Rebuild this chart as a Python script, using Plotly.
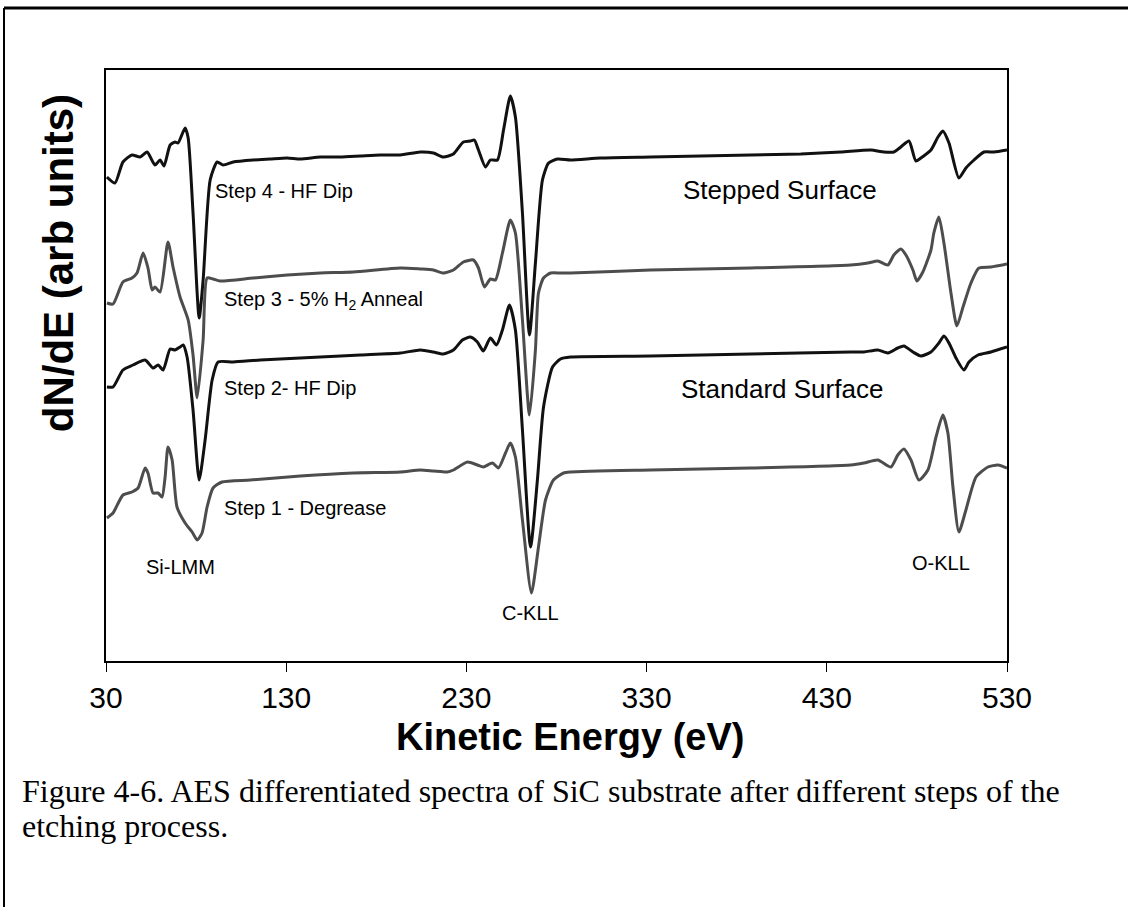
import plotly.graph_objects as go

# ---- data (energy in eV, intensity in arbitrary units) ----
e4 = [30.5, 35, 39.4, 44.4, 48.9, 52.8, 57.2, 60, 62.2, 65.6, 68.3, 70, 73.9, 75.6, 78.3, 81.7, 83.9, 87.8, 91.7, 95,
      100.6, 111.7, 121.1, 130.6, 137.8, 148.9, 160, 171.1, 182.2, 193.3, 204.4, 211.7, 217.2, 222.8, 228.3, 232.2,
      234.4, 236.7, 240.6, 243.3, 247.2, 250.6, 254.4, 257.2, 261.1, 265, 268.3, 272.2, 275.6, 280.6, 287.8, 304.4,
      332.2, 360, 387.8, 415.6, 437.8, 454.4, 461.7, 467.2, 471.1, 475.6, 479.4, 482.2, 487.8, 491.7, 494.4, 497.8,
      503.3, 507.2, 511.7, 517.2, 522.8, 530]
i4 = [484, 478, 499, 506, 504, 509, 496, 501, 495, 516, 519, 518, 533, 523, 448, 343, 381, 481, 499, 496,
      499, 501, 502, 503, 502, 504, 504, 505, 506, 506, 509, 508, 504, 507, 519, 520,
      521, 511, 494, 501, 501, 531, 565, 544, 448, 326, 398, 481, 498, 502, 501, 503,
      504, 505, 506, 507, 509, 511, 509, 509, 514, 520, 500, 503, 511, 524, 530, 518,
      483, 493, 501, 509, 509, 511]

e3 = [30.5, 33.9, 39.4, 44.4, 47.2, 50.6, 53.3, 55.6, 57.2, 60, 64.4, 67.2, 71.1, 75.6, 78.3, 80.6, 83.9, 86.1, 89.4,
      93.3, 111.7, 130.6, 148.9, 167.2, 193.3, 204.4, 211.7, 217.2, 222.8, 228.3, 233.9, 236.7, 240, 243.3, 246.1,
      250, 254.4, 257.2, 261.1, 265, 268.3, 270, 272.8, 276.7, 282.2, 287.8, 332.2, 387.8, 443.3, 452.8, 458.3,
      463.9, 467.2, 471.1, 473.9, 477.8, 480, 483.3, 487.8, 489.4, 492.2, 495, 498.9, 502.2, 505.6, 510, 514.4,
      521.1, 530]
i3 = [358, 357, 379, 383, 388, 408, 393, 371, 374, 369, 419, 394, 364, 341, 306, 263, 321, 383, 382,
      380, 383, 386, 388, 389, 393, 392, 391, 388, 391, 399, 401, 393, 374, 382, 381,
      408, 441, 428, 341, 246, 311, 368, 383, 388, 388, 388, 391, 393, 396, 398, 400,
      396, 406, 412, 406, 391, 380, 389, 411, 428, 444, 418, 368, 335, 354, 378, 393,
      394, 397]

e2 = [30.5, 33.9, 39.4, 45, 51.7, 56.1, 58.9, 61.7, 65.6, 68.3, 71.1, 72.8, 75, 78.3, 81.7, 85, 88.9, 92.2, 100.6,
      115.6, 137.8, 148.9, 171.1, 193.3, 204.4, 211.7, 217.2, 222.8, 227.8, 232.2, 236.1, 239.4, 243.3, 246.7, 250,
      253.9, 257.2, 261.1, 265.6, 269.4, 272.8, 277.8, 282.2, 287.8, 332.2, 387.8, 443.3, 450.6, 458.3, 463.9,
      469.4, 472.8, 477.8, 482.2, 487.8, 492.2, 495, 497.8, 501.7, 506.1, 508.9, 513.9, 521.1, 530]
i2 = [274, 274, 291, 296, 301, 293, 296, 291, 312, 311, 314, 316, 304, 251, 181, 221, 281, 299, 299,
      301, 303, 304, 306, 308, 311, 309, 307, 311, 321, 324, 319, 310, 323, 316, 331,
      356, 331, 231, 114, 181, 254, 294, 302, 304, 305, 307, 309, 309, 311, 308,
      313, 315, 309, 305, 309, 318, 325, 318, 303, 291, 299, 306, 309, 314]

e1 = [30.5, 33.9, 39.4, 44.4, 47.8, 51.7, 53.3, 56.1, 58.9, 61.1, 62.8, 64.4, 66.7, 69.4, 73.9, 77.8, 80.6, 83.3,
      86.1, 89.4, 94.4, 110, 137.8, 167.2, 193.3, 204.4, 211.7, 219.4, 222.8, 230.6, 236.1, 239.4, 244.4, 247.8,
      251.7, 254.4, 257.2, 261.1, 266.1, 270, 273.9, 278.3, 283.9, 287.8, 332.2, 387.8, 443.3, 450.6, 458.3, 465.6,
      469.4, 472.8, 476.7, 481.1, 486.1, 490.6, 494.4, 497.2, 500, 503.3, 507.2, 512.8, 519.4, 525, 530]
i1 = [143, 148, 166, 169, 173, 193, 188, 168, 168, 164, 184, 214, 201, 154, 138, 129, 121, 128,
      154, 173, 179, 181, 185, 188, 189, 191, 190, 189, 191, 199, 196, 194, 198, 193,
      208, 218, 204, 141, 68, 114, 161, 181, 188, 189, 191, 193, 196, 198, 201, 194,
      206, 212, 201, 181, 191, 224, 246, 228, 174, 129, 151, 184, 194, 196, 193]

x_ticks = [30, 130, 230, 330, 430, 530]

BLACK = "#111111"
GRAY = "#4d4d4d"
SANS = "Arial, Liberation Sans, sans-serif"

fig = go.Figure()
for xs, ys, col, nm in [(e1, i1, GRAY, "Step 1 - Degrease"),
                        (e2, i2, BLACK, "Step 2- HF Dip"),
                        (e3, i3, GRAY, "Step 3 - 5% H2 Anneal"),
                        (e4, i4, BLACK, "Step 4 - HF Dip")]:
    fig.add_trace(go.Scatter(x=xs, y=ys, mode="lines", name=nm,
                             line=dict(color=col, width=3, shape="spline", smoothing=0.6)))

lab_font = dict(family=SANS, size=20, color="black")
big_font = dict(family=SANS, size=26, color="black")
labels = [
    (89.4, 470, "Step 4 - HF Dip", "left", lab_font),
    (94.4, 361, "Step 3 - 5% H<sub>2</sub> Anneal", "left", lab_font),
    (94.4, 273, "Step 2- HF Dip", "left", lab_font),
    (94.4, 153, "Step 1 - Degrease", "left", lab_font),
    (71.1, 94, "Si-LMM", "center", lab_font),
    (265.6, 48, "C-KLL", "center", lab_font),
    (493.3, 98, "O-KLL", "center", lab_font),
    (348.9, 471, "Stepped Surface", "left", big_font),
    (347.8, 272, "Standard Surface", "left", big_font),
]
for x, y, t, xa, f in labels:
    fig.add_annotation(x=x, y=y, xref="x", yref="y", text=t, showarrow=False,
                       xanchor=xa, yanchor="middle", font=f)

# axis titles (positioned as in the reference)
fig.add_annotation(x=-0.0533, y=0.673, xref="paper", yref="paper", showarrow=False,
                   xanchor="center", yanchor="middle", textangle=-90,
                   text="<b>dN/dE (arb units)</b>", font=dict(family=SANS, size=42, color="black"))
fig.add_annotation(x=0.515, y=-0.1286, xref="paper", yref="paper", showarrow=False,
                   xanchor="center", yanchor="middle",
                   text="<b>Kinetic Energy (eV)</b>", font=dict(family=SANS, size=38, color="black"))

cap_font = dict(family="Liberation Serif, Times New Roman, serif", size=32, color="black")
fig.add_annotation(x=-0.0954, y=-0.22, xref="paper", yref="paper", showarrow=False, xanchor="left",
                   yanchor="middle", font=cap_font,
                   text="Figure 4-6. AES differentiated spectra of SiC substrate after different steps of the")
fig.add_annotation(x=-0.0954, y=-0.279, xref="paper", yref="paper", showarrow=False, xanchor="left",
                   yanchor="middle", font=cap_font, text="etching process.")

# outer figure frame (top and left edges)
fig.add_shape(type="line", xref="paper", yref="paper", x0=-0.1132, x1=1.2, y0=1.1049, y1=1.1049,
              line=dict(color="black", width=3))
fig.add_shape(type="line", xref="paper", yref="paper", x0=-0.1132, x1=-0.1132, y0=1.1049, y1=-0.45,
              line=dict(color="black", width=2))

fig.update_layout(
    width=1128, height=907,
    margin=dict(l=106, r=121, t=70, b=246),
    paper_bgcolor="white", plot_bgcolor="white",
    showlegend=False,
    xaxis=dict(range=[30, 530], tickvals=x_ticks, ticktext=[str(v) for v in x_ticks],
               ticks="outside", ticklen=9, tickwidth=1, tickcolor="black",
               showline=True, linecolor="black", linewidth=1.5, mirror=True,
               showgrid=False, zeroline=False,
               tickfont=dict(family=SANS, size=30, color="black")),
    yaxis=dict(range=[0, 591], showticklabels=False, ticks="",
               showline=True, linecolor="black", linewidth=1.5, mirror=True,
               showgrid=False, zeroline=False),
)

fig.write_html("out.html")
